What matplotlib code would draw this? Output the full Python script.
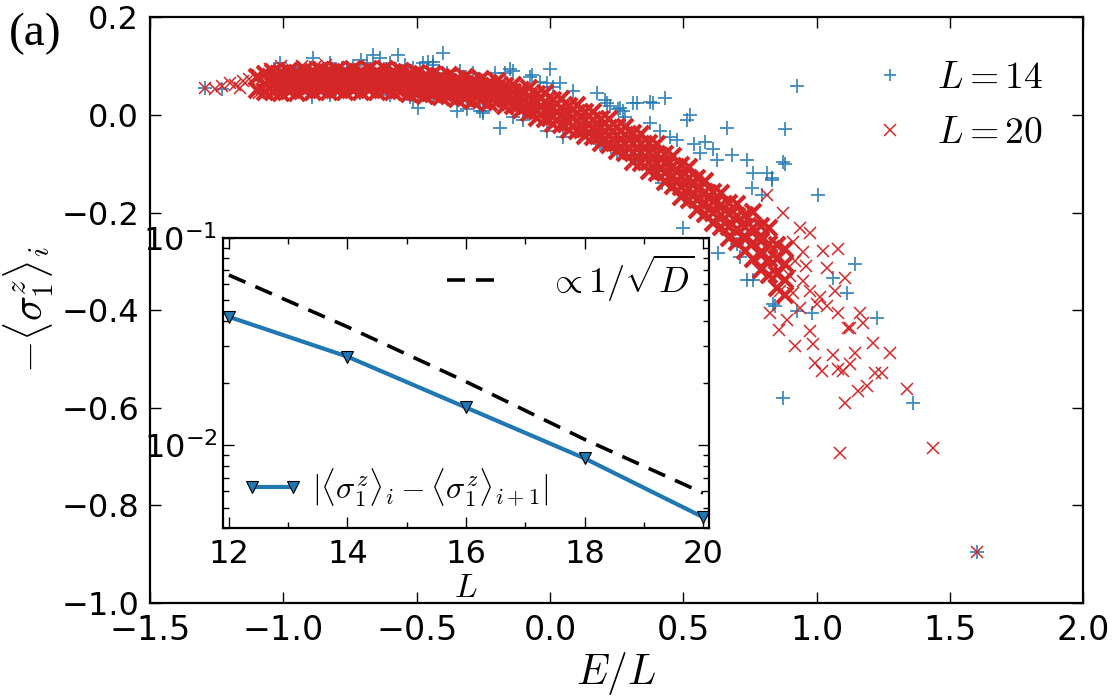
import matplotlib
matplotlib.use("Agg")
import matplotlib.pyplot as plt
from matplotlib.ticker import MultipleLocator, FixedLocator, FixedFormatter, NullFormatter

plt.rcParams["mathtext.fontset"] = "cm"
plt.rcParams["font.family"] = "DejaVu Sans"

BLUE = "#1f77b4"
RED = "#d62728"

# ---- main panel: L = 14 (scattered points)
l14_x = [-1.294, -1.23, -1.012, -0.95, -0.889, -0.892, -0.825, -0.825, -0.78, -0.74, -0.712,
         -0.71, -0.686, -0.664, -0.637, -0.6, -0.6, -0.57, -0.544, -0.525, -0.513, -0.513,
         -0.495, -0.487, -0.476, -0.457, -0.439, -0.439, -0.439, -0.401, -0.386, -0.349,
         -0.337, -0.311, -0.289, -0.262, -0.251, -0.251, -0.206, -0.187, -0.168, -0.15,
         -0.139, -0.139, -0.101, -0.075, -0.067, -0.037, -0.011, -0.011, 0.0, 0.012, 0.038,
         0.049, 0.087, 0.124, 0.139, 0.177, 0.188, 0.188, 0.195, 0.207, 0.214, 0.225, 0.252,
         0.252, 0.256, 0.263, 0.274, 0.282, 0.312, 0.327, 0.327, 0.375, 0.375, 0.387, 0.387,
         0.413, 0.42, 0.432, 0.45, 0.477, 0.499, 0.514, 0.526, 0.54, 0.563, 0.58, 0.61, 0.627,
         0.63, 0.664, 0.683, 0.702, 0.713, 0.739, 0.739, 0.758, 0.762, 0.762, 0.796, 0.814,
         0.833, 0.833, 0.837, 0.844, 0.874, 0.874, 0.882, 0.882, 0.927, 0.927, 0.983, 1.006,
         1.062, 1.114, 1.144, 1.227, 1.362, 1.602]
l14_y = [0.056, 0.054, 0.106, 0.098, 0.116, 0.036, 0.040, 0.106, 0.097, 0.100, 0.046,
         0.112, 0.106, 0.122, 0.116, 0.106, 0.040, 0.122, 0.102, 0.036, 0.097, 0.030,
         0.015, 0.097, 0.106, 0.108, 0.108, 0.102, 0.040, 0.126, 0.087, 0.009,
         0.091, 0.013, 0.085, 0.009, 0.009, 0.003, 0.087, -0.026, 0.087, 0.095,
         -0.005, 0.091, -0.011, 0.077, 0.081, 0.067, -0.032, 0.065, 0.095, 0.057, 0.065,
         -0.046, 0.050, -0.038, -0.038, 0.044, -0.046, -0.059, -0.063, 0.030, 0.024, 0.019, -0.067,
         -0.079, 0.013, 0.015, 0.009, -0.005, 0.024, -0.093, 0.024, 0.026, -0.017, -0.120, 0.024,
         -0.032, -0.140, 0.034, -0.045, -0.052, -0.231, -0.011, -0.001, -0.060, -0.079, -0.055, -0.070, -0.093,
         -0.284, -0.026, -0.083, -0.264, -0.292, -0.093, -0.339, -0.149, -0.118, -0.339, -0.165, -0.118,
         -0.130, -0.134, -0.387, -0.391, -0.097, -0.580, -0.028, -0.100, 0.060, -0.401, -0.407, -0.165,
         -0.335, -0.364, -0.305, -0.417, -0.590, -0.897]

# ---- main panel: L = 20, dense band (columns of E/L with the values seen in each)
l20_band_x = [-1.10, -1.07, -1.04, -1.01, -0.98, -0.95, -0.92, -0.89, -0.86, -0.83, -0.80,
              -0.77, -0.74, -0.71, -0.68, -0.65, -0.62, -0.59, -0.56, -0.53, -0.50, -0.47,
              -0.44, -0.41, -0.38, -0.35, -0.32, -0.29, -0.26, -0.23, -0.20, -0.17, -0.14,
              -0.11, -0.08, -0.05, -0.02, 0.01, 0.04, 0.07, 0.10, 0.13, 0.16, 0.19, 0.22,
              0.25, 0.28, 0.31, 0.34, 0.37, 0.40, 0.43, 0.46, 0.49, 0.52, 0.55, 0.58, 0.61,
              0.64, 0.67, 0.70, 0.73, 0.76, 0.79, 0.82, 0.85, 0.88]
l20_band_y = [
    [0.052, 0.078], [0.048, 0.064, 0.084], [0.047, 0.061, 0.075, 0.089],
    [0.044, 0.057, 0.072, 0.085], [0.049, 0.063, 0.077, 0.091], [0.046, 0.059, 0.074, 0.087],
    [0.051, 0.065, 0.079, 0.093], [0.047, 0.060, 0.075, 0.088], [0.051, 0.065, 0.079, 0.093],
    [0.047, 0.060, 0.075, 0.088], [0.051, 0.065, 0.079, 0.093], [0.047, 0.060, 0.075, 0.088],
    [0.052, 0.066, 0.080, 0.094], [0.048, 0.061, 0.076, 0.089], [0.052, 0.066, 0.080, 0.094],
    [0.048, 0.061, 0.076, 0.089], [0.052, 0.066, 0.080, 0.094], [0.047, 0.060, 0.075, 0.088],
    [0.049, 0.063, 0.077, 0.091], [0.043, 0.056, 0.071, 0.084], [0.045, 0.059, 0.073, 0.087],
    [0.039, 0.052, 0.067, 0.080], [0.042, 0.056, 0.070, 0.084], [0.036, 0.049, 0.064, 0.077],
    [0.039, 0.053, 0.067, 0.081], [0.033, 0.046, 0.061, 0.074], [0.035, 0.049, 0.063, 0.077],
    [0.029, 0.042, 0.057, 0.070], [0.031, 0.045, 0.059, 0.073], [0.025, 0.038, 0.053, 0.066],
    [0.027, 0.041, 0.055, 0.069], [0.019, 0.032, 0.047, 0.060], [0.019, 0.033, 0.047, 0.061],
    [0.011, 0.024, 0.039, 0.052], [0.004, 0.021, 0.039, 0.056], [-0.007, 0.009, 0.026, 0.043],
    [-0.008, 0.009, 0.027, 0.044], [-0.019, -0.003, 0.014, 0.031], [-0.020, -0.003, 0.015, 0.032],
    [-0.031, -0.015, 0.002, 0.019], [-0.032, -0.015, 0.003, 0.020], [-0.044, -0.028, -0.011, 0.006],
    [-0.046, -0.029, -0.011, 0.006], [-0.058, -0.042, -0.025, -0.008], [-0.061, -0.044, -0.026, -0.009],
    [-0.074, -0.058, -0.041, -0.024], [-0.077, -0.060, -0.042, -0.025], [-0.096, -0.077, -0.057, -0.038],
    [-0.099, -0.079, -0.059, -0.039], [-0.115, -0.096, -0.076, -0.057], [-0.120, -0.100, -0.080, -0.060],
    [-0.138, -0.119, -0.099, -0.080], [-0.145, -0.125, -0.105, -0.085], [-0.168, -0.147, -0.125, -0.103],
    [-0.175, -0.152, -0.130, -0.107], [-0.195, -0.174, -0.152, -0.130], [-0.203, -0.180, -0.158, -0.135],
    [-0.222, -0.201, -0.179, -0.157], [-0.229, -0.206, -0.184, -0.161], [-0.253, -0.229, -0.204, -0.180],
    [-0.260, -0.234, -0.208, -0.182], [-0.279, -0.255, -0.230, -0.206], [-0.295, -0.263, -0.231, -0.199],
    [-0.317, -0.288, -0.258, -0.228], [-0.328, -0.296, -0.264, -0.232], [-0.355, -0.326, -0.296, -0.266],
    [-0.370, -0.338, -0.306, -0.274],
]

# ---- main panel: L = 20, isolated points at both ends
l20_x = [-1.294, -1.256, -1.23, -1.20, -1.18, -1.162, -1.15, -1.13, -1.095, -1.09, -1.08,
         -1.06, -1.05, -1.01, -1.01, -0.93, -0.88, -0.84,
         0.814, 0.826, 0.863, 0.86, 0.874, 0.89, 0.90, 0.91, 0.912, 0.919, 0.92, 0.938, 0.938,
         0.95, 0.95, 0.96, 0.976, 0.976, 0.976, 0.987, 0.994, 1.002, 1.013, 1.021, 1.025,
         1.039, 1.039, 1.062, 1.069, 1.081, 1.081, 1.081, 1.088, 1.10, 1.107, 1.107, 1.118,
         1.125, 1.125, 1.144, 1.155, 1.163, 1.174, 1.189, 1.212, 1.219, 1.246, 1.276, 1.339,
         1.437, 1.602]
l20_y = [0.056, 0.054, 0.060, 0.065, 0.062, 0.056, 0.070, 0.073, 0.081, 0.044, 0.054,
         0.050, 0.094, 0.100, 0.046, 0.101, 0.098, 0.102,
         -0.165, -0.405, -0.360, -0.440, -0.202, -0.420, -0.330, -0.260, -0.366, -0.473, -0.300, -0.231, -0.395,
         -0.340, -0.280, -0.310, -0.243, -0.360, -0.442, -0.469, -0.508, -0.387, -0.374, -0.524, -0.278,
         -0.313, -0.391, -0.493, -0.360, -0.274, -0.405, -0.520, -0.694, -0.524, -0.335, -0.590, -0.436,
         -0.510, -0.436, -0.489, -0.565, -0.405, -0.426, -0.555, -0.467, -0.528, -0.530, -0.487, -0.561,
         -0.682, -0.897]

# ---- inset
inset_L = [12, 14, 16, 18, 20]
inset_diff = [0.0417, 0.0268, 0.01524, 0.00867, 0.00451]
inset_ref = [0.0663, 0.0373, 0.0203, 0.0107, 0.0059]


def style_ticks(ax, size):
    ax.tick_params(which="both", direction="in", top=True, right=True,
                   labelsize=size, width=1.0, pad=8)
    ax.tick_params(which="major", length=8)
    ax.tick_params(which="minor", length=4)
    for s in ax.spines.values():
        s.set_linewidth(1.6)


fig = plt.figure(figsize=(11.12, 6.96), dpi=100)
ax = fig.add_axes([0.135, 0.134, 0.839, 0.841])

ax.plot(l14_x, l14_y, "+", color=BLUE, ms=10, mew=1.3, alpha=0.85, label=r"$L=14$")
band_x = [x for x, col in zip(l20_band_x, l20_band_y) for _ in col]
band_y = [y for col in l20_band_y for y in col]
ax.plot(band_x, band_y, "x", color=RED, ms=11, mew=3.0)
ax.plot(l20_x, l20_y, "x", color=RED, ms=9, mew=1.1, label=r"$L=20$")

ax.set_xlim(-1.5, 2.0)
ax.set_ylim(-1.0, 0.2)
ax.xaxis.set_major_locator(MultipleLocator(0.5))
ax.yaxis.set_major_locator(MultipleLocator(0.2))
style_ticks(ax, 23)
ax.tick_params(axis="x", labelsize=24)
ax.set_xlabel(r"$E/L$", fontsize=30, labelpad=2)
ax.set_ylabel(r"$-\langle\sigma_1^z\rangle_i$", fontsize=30, labelpad=4)
ax.legend(loc="upper right", bbox_to_anchor=(0.985, 0.972), frameon=False, fontsize=27,
          numpoints=1, handlelength=1.0, handletextpad=0.75, borderaxespad=0.3,
          labelspacing=0.5, markerscale=0.9)

fig.text(0.008, 0.952, "(a)", fontsize=34, family="Liberation Serif", va="center")

axin = fig.add_axes([0.2005, 0.2414, 0.4371, 0.4166])
axin.set_facecolor("white")
ln_ref, = axin.plot(inset_L, inset_ref, color="black", lw=2.6, dashes=(5, 3))
ln_diff, = axin.plot(inset_L, inset_diff, color=BLUE, lw=3, marker="v", ms=8,
                     mfc=BLUE, mec="black", mew=0.8)
axin.set_yscale("log")
axin.set_xlim(11.9, 20.1)
axin.set_ylim(0.004, 0.1)
axin.xaxis.set_major_locator(MultipleLocator(2))
axin.xaxis.set_minor_locator(MultipleLocator(1))
axin.yaxis.set_major_locator(FixedLocator([0.01, 0.1]))
axin.yaxis.set_major_formatter(FixedFormatter([r"$\mathdefault{10^{-2}}$", r"$\mathdefault{10^{-1}}$"]))
axin.yaxis.set_minor_locator(FixedLocator([0.004, 0.005, 0.006, 0.007, 0.008, 0.009,
                                           0.02, 0.03, 0.04, 0.05, 0.06, 0.07, 0.08, 0.09]))
axin.yaxis.set_minor_formatter(NullFormatter())
style_ticks(axin, 23)
axin.tick_params(axis="y", pad=4)
axin.set_xlabel(r"$L$", fontsize=24, labelpad=1)

leg1 = axin.legend([ln_ref], [r"$\propto 1/\sqrt{D}$"], loc="upper right", frameon=False,
                   fontsize=26, handlelength=1.4, handletextpad=1.4, borderaxespad=0.0)
axin.add_artist(leg1)
axin.legend([ln_diff], [r"$|\langle\sigma_1^z\rangle_i-\langle\sigma_1^z\rangle_{i+1}|$"],
            loc="lower left", frameon=False, fontsize=23, numpoints=2,
            handlelength=1.9, handletextpad=0.3, borderaxespad=0.2)

fig.savefig("out.png", dpi=100)
